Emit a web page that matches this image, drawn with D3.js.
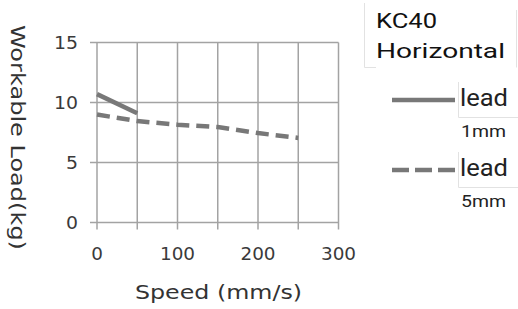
<!DOCTYPE html>
<html>
<head>
<meta charset="utf-8">
<script src="https://cdn.jsdelivr.net/npm/d3@7"></script>
<style>
  body { margin: 0; background: #fff; }
  svg text { font-family: "DejaVu Sans", sans-serif; }
</style>
</head>
<body>
<svg width="518" height="309"></svg>
<script>
// speeds (mm/s) and workable load (kg)
const speeds1 = [0, 50];
const load1 = [10.7, 9.1];
const speeds5 = [0, 50, 100, 150, 200, 250];
const load5 = [9.0, 8.45, 8.15, 7.95, 7.45, 7.05];
const xTicks = [0, 100, 200, 300];
const yTicks = [0, 5, 10, 15];
const xGrid = [0, 50, 100, 150, 200, 250, 300];

const svg = d3.select("svg");
const x = d3.scaleLinear().domain([0, 300]).range([97, 338.5]);
const y = d3.scaleLinear().domain([0, 15]).range([222.5, 42.5]);

const gridColor = "#a3a3a3";
const lineColor = "#787878";

// stretch a text to a given width, the picture's fonts run wide
const fit = (sel, w) => sel.attr("textLength", w).attr("lengthAdjust", "spacingAndGlyphs");

// vertical grid + bottom ticks
svg.selectAll("line.vgrid").data(xGrid).enter().append("line")
    .attr("class", "vgrid")
    .attr("x1", d => x(d)).attr("x2", d => x(d))
    .attr("y1", y(15)).attr("y2", y(0) + 7)
    .attr("stroke", gridColor).attr("stroke-width", 1.5);

// horizontal grid + left ticks
svg.selectAll("line.hgrid").data(yTicks).enter().append("line")
    .attr("class", "hgrid")
    .attr("x1", x(0) - 7).attr("x2", x(300))
    .attr("y1", d => y(d)).attr("y2", d => y(d))
    .attr("stroke", gridColor).attr("stroke-width", 1.5);

svg.selectAll("text.ytick").data(yTicks).enter().append("text")
    .attr("class", "ytick")
    .attr("x", 78).attr("y", d => y(d))
    .attr("dy", "0.36em")
    .attr("text-anchor", "end")
    .attr("font-size", 17)
    .attr("fill", "#3a3a3a")
    .text(d => d)
    .each(function(d) { fit(d3.select(this), String(d).length * 12); });

svg.selectAll("text.xtick").data(xTicks).enter().append("text")
    .attr("class", "xtick")
    .attr("x", d => x(d)).attr("y", 260)
    .attr("text-anchor", "middle")
    .attr("font-size", 17)
    .attr("fill", "#3a3a3a")
    .text(d => d)
    .each(function(d) { fit(d3.select(this), String(d).length * 11.7); });

fit(svg.append("text")
    .attr("x", 218.5).attr("y", 299)
    .attr("text-anchor", "middle")
    .attr("font-size", 20)
    .attr("fill", "#333")
    .text("Speed (mm/s)"), 167);

fit(svg.append("text")
    .attr("transform", "translate(11,137.5) rotate(90)")
    .attr("text-anchor", "middle")
    .attr("font-size", 20)
    .attr("fill", "#333")
    .text("Workable Load(kg)"), 225);

// data lines
const line = d3.line().x(d => x(d[0])).y(d => y(d[1]));
svg.append("path")
    .datum(d3.zip(speeds5, load5))
    .attr("d", line)
    .attr("fill", "none")
    .attr("stroke", lineColor).attr("stroke-width", 4.5)
    .attr("stroke-dasharray", "13,7");
svg.append("path")
    .datum(d3.zip(speeds1, load1))
    .attr("d", line)
    .attr("fill", "none")
    .attr("stroke", lineColor).attr("stroke-width", 4.5);

// legend
const boxColor = "#e2e2e2";
const leg = svg.append("g").attr("class", "legend");
leg.append("path")
    .attr("d", "M364.5,3V67.5H376 M516.5,10V67.5")
    .attr("fill", "none").attr("stroke", boxColor);
fit(leg.append("text").attr("x", 376).attr("y", 28)
    .style("font-family", "Roboto, sans-serif")
    .attr("font-size", 21).attr("fill", "#111")
    .text("KC40"), 61);
fit(leg.append("text").attr("x", 376).attr("y", 58)
    .style("font-family", "Roboto, sans-serif")
    .attr("font-size", 21).attr("fill", "#111")
    .text("Horizontal"), 129);

const legItems = [
    { label: "lead", sub: "1mm", dash: null, y: 100 },
    { label: "lead", sub: "5mm", dash: "17,6", y: 170 }
];
legItems.forEach(d => {
    leg.append("line")
        .attr("x1", 392).attr("x2", 455)
        .attr("y1", d.y).attr("y2", d.y)
        .attr("stroke", lineColor).attr("stroke-width", 4.5)
        .attr("stroke-dasharray", d.dash);
    leg.append("path")
        .attr("d", `M458.5,${d.y - 18}V${d.y + 17.5}H518`)
        .attr("fill", "none").attr("stroke", boxColor);
    fit(leg.append("text").attr("x", 460).attr("y", d.y + 6)
        .style("font-family", "Roboto, sans-serif")
        .attr("font-size", 23).attr("fill", "#222")
        .text(d.label), 48);
    fit(leg.append("text").attr("x", 461).attr("y", d.y + 37)
        .style("font-family", "Roboto, sans-serif")
        .attr("font-size", 17).attr("fill", "#222")
        .text(d.sub), 45);
});
</script>
</body>
</html>
